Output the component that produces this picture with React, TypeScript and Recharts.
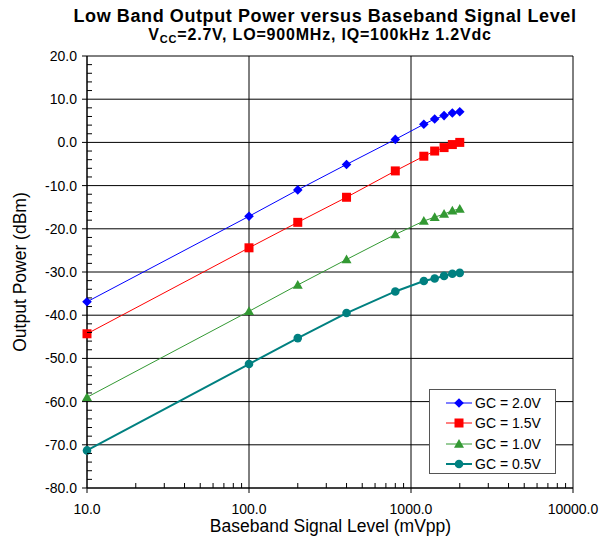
import React from 'react';
import { LineChart, Line, XAxis, YAxis, CartesianGrid, Legend } from 'recharts';

const FONT = '"Liberation Sans", Arial, Helvetica, sans-serif';

// Baseband signal level (mVpp)
const baseband = [10, 100, 200, 400, 800, 1200, 1400, 1600, 1800, 2000];
// Output power (dBm) per gain control voltage
const gc20 = [-36.9, -17.1, -11.0, -5.1, 0.7, 4.2, 5.4, 6.2, 6.8, 7.1];
const gc15 = [-44.3, -24.4, -18.5, -12.7, -6.6, -3.2, -2.0, -1.2, -0.5, 0.0];
const gc10 = [-59.0, -39.1, -33.0, -27.1, -21.3, -18.2, -17.3, -16.6, -15.8, -15.4];
const gc05 = [-71.3, -51.3, -45.3, -39.5, -34.5, -32.1, -31.5, -30.9, -30.4, -30.2];

const seriesNames = ['GC = 2.0V', 'GC = 1.5V', 'GC = 1.0V', 'GC = 0.5V'];

const xMajor = [10, 100, 1000, 10000];
const xMinor = [
  20, 30, 40, 50, 60, 70, 80, 90,
  200, 300, 400, 500, 600, 700, 800, 900,
  2000, 3000, 4000, 5000, 6000, 7000, 8000, 9000,
];
const yMajor = [-80, -70, -60, -50, -40, -30, -20, -10, 0, 10, 20];
const yMinor: number[] = [];
for (let v = -78; v < 20; v += 2) if (v % 10 !== 0) yMinor.push(v);

const xTicks = [...xMajor, ...xMinor].sort((a, b) => a - b);
const yTicks = [...yMajor, ...yMinor].sort((a, b) => a - b);

const data = baseband.map((x, i) => ({
  x,
  gc20: gc20[i],
  gc15: gc15[i],
  gc10: gc10[i],
  gc05: gc05[i],
}));

const series = [
  { key: 'gc20', name: seriesNames[0], color: '#0000FF', width: 1, shape: 'diamond' },
  { key: 'gc15', name: seriesNames[1], color: '#FF0000', width: 1, shape: 'square' },
  { key: 'gc10', name: seriesNames[2], color: '#339933', width: 1, shape: 'triangle' },
  { key: 'gc05', name: seriesNames[3], color: '#008080', width: 2, shape: 'circle' },
];

const Marker = ({ cx, cy, shape, color }: any) => {
  if (cx == null || cy == null) return null;
  if (shape === 'diamond') {
    const r = 4.8;
    return <polygon points={`${cx},${cy - r} ${cx + r},${cy} ${cx},${cy + r} ${cx - r},${cy}`} fill={color} />;
  }
  if (shape === 'square') {
    const r = 4.5;
    return <rect x={cx - r} y={cy - r} width={2 * r} height={2 * r} fill={color} />;
  }
  if (shape === 'triangle') {
    const r = 5;
    return <polygon points={`${cx},${cy - r} ${cx + r},${cy + r * 0.75} ${cx - r},${cy + r * 0.75}`} fill={color} />;
  }
  return <circle cx={cx} cy={cy} r={4.3} fill={color} />;
};

const XTick = (props: any) => {
  const { x, y, payload } = props;
  const v = payload.value;
  const major = xMajor.includes(v);
  return (
    <g>
      {major ? (
        <line x1={x} x2={x} y1={y} y2={y + 5} stroke="#000" />
      ) : (
        <line x1={x} x2={x} y1={y} y2={y - 5} stroke="#000" />
      )}
      {major && (
        <text x={x} y={y + 26} textAnchor="middle" fontSize={14} fontFamily={FONT} fill="#000">
          {v.toFixed(1)}
        </text>
      )}
    </g>
  );
};

const YTick = (props: any) => {
  const { x, y, payload } = props;
  const v = payload.value;
  const major = yMajor.includes(v);
  return (
    <g>
      {major ? (
        <line x1={x - 5} x2={x} y1={y} y2={y} stroke="#000" />
      ) : (
        <line x1={x} x2={x + 5} y1={y} y2={y} stroke="#000" />
      )}
      {major && (
        <text x={x - 10} y={y + 5} textAnchor="end" fontSize={14} fontFamily={FONT} fill="#000">
          {v.toFixed(1)}
        </text>
      )}
    </g>
  );
};

const LegendBox = () => (
  <div
    style={{
      width: 127,
      height: 85,
      boxSizing: 'border-box',
      border: '1px solid #555',
      background: '#fff',
      padding: '3px 0 0 0',
    }}
  >
    {series.map((s) => (
      <div key={s.key} style={{ display: 'flex', alignItems: 'center', height: 20.3, fontFamily: FONT, fontSize: 14, color: '#000' }}>
        <svg width={44} height={14} style={{ marginLeft: 16 }}>
          <line x1={0} x2={26} y1={7} y2={7} stroke={s.color} strokeWidth={s.width} />
          <Marker cx={13} cy={7} shape={s.shape} color={s.color} />
        </svg>
        <span style={{ marginLeft: -15 }}>{s.name}</span>
      </div>
    ))}
  </div>
);

export default function App() {
  return (
    <div style={{ position: 'relative', width: 593, height: 528, fontFamily: FONT, background: '#fff' }}>
      <div
        style={{
          position: 'absolute', left: 32, width: 570, top: -1, textAlign: 'center',
          fontWeight: 'bold', fontSize: 18, lineHeight: '18px', letterSpacing: 0.6, whiteSpace: 'nowrap',
        }}
      >
        Low Band Output Power versus Baseband Signal Level
      </div>
      <div
        style={{
          position: 'absolute', left: 32, width: 560, top: 19, textAlign: 'center',
          fontWeight: 'bold', fontSize: 16, lineHeight: '16px', letterSpacing: 0.8, whiteSpace: 'nowrap',
        }}
      >
        V<span style={{ fontSize: 11, position: 'relative', top: 3 }}>CC</span>=2.7V, LO=900MHz, IQ=100kHz 1.2Vdc
      </div>
      <LineChart
        width={593}
        height={528}
        data={data}
        margin={{ top: 48, right: 28, bottom: 0, left: 19 }}
      >
        <CartesianGrid stroke="#000" horizontalValues={yMajor} verticalValues={xMajor} />
        <XAxis
          dataKey="x"
          type="number"
          scale="log"
          domain={[10, 10000]}
          ticks={xTicks}
          interval={0}
          tickSize={0}
          tickMargin={0}
          tick={<XTick />}
          axisLine={{ stroke: '#000' }}
          height={48}
        />
        <YAxis
          type="number"
          domain={[-80, 20]}
          ticks={yTicks}
          interval={0}
          tickSize={0}
          tickMargin={0}
          tick={<YTick />}
          axisLine={{ stroke: '#000' }}
          width={60}
          label={{
            value: 'Output Power (dBm)',
            angle: -90,
            position: 'center',
            dx: -37,
            style: { fontSize: 17.5, fontFamily: FONT, fill: '#000', textAnchor: 'middle' },
          }}
        />
        {series.map((s) => (
          <Line
            key={s.key}
            dataKey={s.key}
            name={s.name}
            type="linear"
            stroke={s.color}
            strokeWidth={s.width}
            isAnimationActive={false}
            dot={(p: any) => <Marker key={`${s.key}-${p.index}`} cx={p.cx} cy={p.cy} shape={s.shape} color={s.color} />}
            activeDot={false}
          />
        ))}
        <Legend
          layout="vertical"
          align="center"
          verticalAlign="middle"
          content={() => <LegendBox />}
          wrapperStyle={{ position: 'absolute', left: 421, top: 381, width: 127, height: 85 }}
        />
      </LineChart>
      <div
        style={{
          position: 'absolute', left: 79, width: 487, top: 510, textAlign: 'center',
          fontSize: 17.5, lineHeight: '16px', whiteSpace: 'nowrap', color: '#000',
        }}
      >
        Baseband Signal Level (mVpp)
      </div>
    </div>
  );
}
